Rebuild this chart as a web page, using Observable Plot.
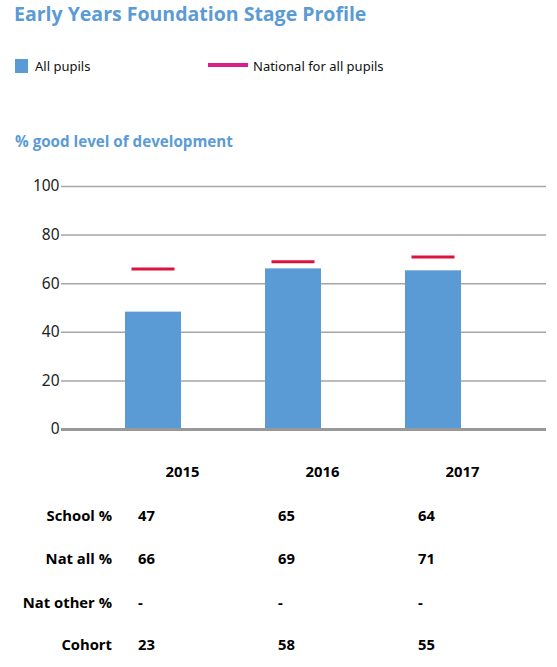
<!DOCTYPE html>
<html><head><meta charset="utf-8">
<script src="https://cdn.jsdelivr.net/npm/d3@7"></script>
<script src="https://cdn.jsdelivr.net/npm/@observablehq/plot@0.6"></script>
<style>
html,body{margin:0;padding:0;background:#fff}
body{width:557px;height:667px;position:relative;overflow:hidden;font-family:"Open Sans",sans-serif}
.abs{position:absolute;white-space:nowrap}
#title{left:14px;top:0px;font-size:19.5px;font-weight:700;color:#5b9bd5;line-height:28px}
#sub{left:15px;top:130px;font-size:15.2px;font-weight:700;color:#5b9bd5;line-height:22px}
.leg{font-family:"Noto Sans",sans-serif;font-size:13px;color:#111;line-height:18px}
.cell{font-size:14.8px;font-weight:700;color:#000;line-height:20px}
#chart{position:absolute;left:0;top:170px}
</style></head><body>
<div id="title" class="abs">Early Years Foundation Stage Profile</div>
<div class="abs" style="left:15px;top:59px;width:13px;height:14px;background:#5b9bd5"></div>
<div class="abs leg" style="left:35px;top:57px">All pupils</div>
<div class="abs" style="left:208px;top:63px;width:40px;height:4px;background:#dc1d8d"></div>
<div class="abs leg" style="left:253px;top:57px">National for all pupils</div>
<div id="sub" class="abs">% good level of development</div>
<div id="chart"></div>
<div id="table"></div>
<script>
const years = ["2015", "2016", "2017"];
const allPupils = [48.3, 66.1, 65.3];
const nationalAll = [66, 69, 71];
const yTicks = [0, 20, 40, 60, 80, 100];
const rowLabels = ["School %", "Nat all %", "Nat other %", "Cohort"];
const schoolPct = ["47", "65", "64"];
const natAllPct = ["66", "69", "71"];
const natOtherPct = ["-", "-", "-"];
const cohort = ["23", "58", "55"];

const data = years.map((y, i) => ({year: y, value: allPupils[i], nat: nationalAll[i]}));

const chart = Plot.plot({
  width: 557, height: 319,
  marginLeft: 61, marginRight: 11, marginTop: 16, marginBottom: 60,
  style: {fontFamily: "'Noto Sans', sans-serif", fontSize: "15px", color: "#222", background: "transparent", overflow: "visible"},
  x: {domain: years, paddingInner: 0.6, paddingOuter: 0.53, align: 0.429, label: null},
  y: {domain: [0, 100], label: null},
  marks: [
    Plot.gridY(yTicks, {stroke: "#a6a6a6", strokeOpacity: 1, strokeWidth: 1.5}),
    Plot.axisY(yTicks, {tickSize: 0, tickPadding: 2, label: null, fontSize: 15.5}),
    Plot.barY(data, {x: "year", y: "value", fill: "#5b9bd5"}),
    Plot.ruleY([0], {stroke: "#999", strokeWidth: 3}),
    Plot.tickY(data, {x: "year", y: "nat", stroke: "#dc143c", strokeWidth: 3, insetLeft: 6.5, insetRight: 6.5}),
    Plot.axisX({tickSize: 0, tickPadding: 37, label: null, fontSize: 14.8, fontWeight: "bold", fontFamily: "'Open Sans', sans-serif", fill: "#000", dx: 29})
  ]
});
document.getElementById("chart").appendChild(chart);

const xs = chart.scale("x");
const rows = [schoolPct, natAllPct, natOtherPct, cohort];
const rowCenters = [515, 558, 601.5, 644];
const table = document.getElementById("table");
rows.forEach((vals, r) => {
  const top = rowCenters[r] - 10;
  const lab = document.createElement("div");
  lab.className = "abs cell";
  lab.style.right = (557 - 112) + "px";
  lab.style.top = top + "px";
  lab.textContent = rowLabels[r];
  table.appendChild(lab);
  vals.forEach((v, i) => {
    const d = document.createElement("div");
    d.className = "abs cell";
    d.style.left = (xs.apply(years[i]) + 13) + "px";
    d.style.top = top + "px";
    d.textContent = v;
    table.appendChild(d);
  });
});
</script>
</body></html>
